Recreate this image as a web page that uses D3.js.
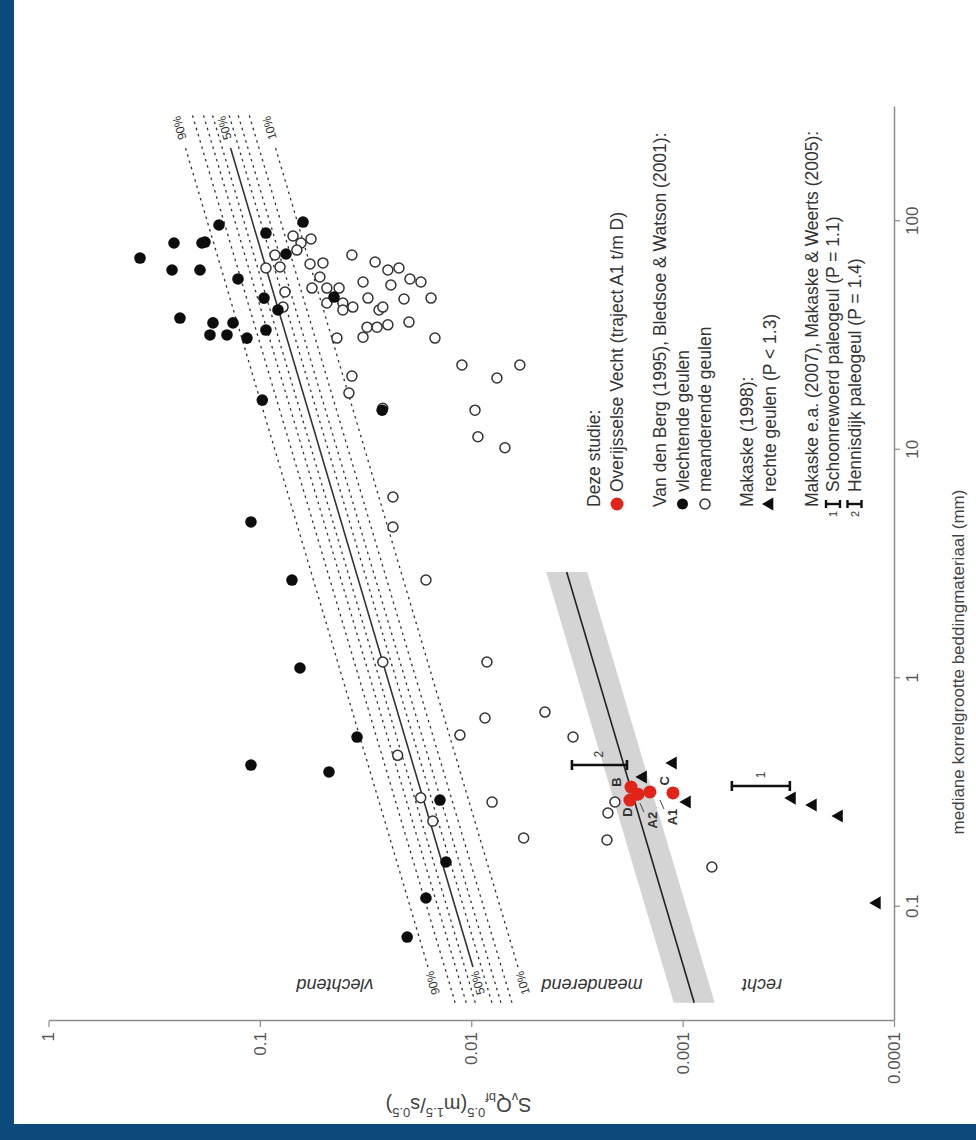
<!DOCTYPE html>
<html>
<head>
<meta charset="utf-8">
<script src="https://cdn.jsdelivr.net/npm/d3@7"></script>
<style>
  body { margin: 0; background: #fff; }
  svg text { font-family: "Liberation Sans", Arial, Helvetica, sans-serif; }
</style>
</head>
<body>
<svg id="chart" width="976" height="1140"></svg>
<script>
// ---- axis ticks ----
const xTicks = [0.1, 1, 10, 100];
const xTickLabels = ["0.1", "1", "10", "100"];
const yTicks = [1, 0.1, 0.01, 0.001, 0.0001];
const yTickLabels = ["1", "0.1", "0.01", "0.001", "0.0001"];

// ---- Van den Berg (1995), Bledsoe & Watson (2001): braided channels ----
const braidedD = [96.3, 80.3, 81.1, 61.2, 55.9, 88.8, 99.2, 71.9, 46.1, 40.9, 46.6, 35.9, 35.9, 31.8, 31.8, 30.8, 33.4, 37.7, 69.0,
                  61.2, 80.3, 16.5, 14.9, 4.83, 2.69, 1.109, 0.553, 0.417, 0.389, 0.293, 0.157, 0.1092, 0.0737];
const braidedS = [0.1561, 0.1879, 0.1819, 0.192, 0.1269, 0.0936, 0.0625, 0.0752, 0.0956, 0.0821, 0.0446, 0.1667, 0.134, 0.1722, 0.1431, 0.1151, 0.0936, 0.2388, 0.369,
                  0.2604, 0.2549, 0.0974, 0.0264, 0.1102, 0.0705, 0.0646, 0.0347, 0.1102, 0.0471, 0.01406, 0.01317, 0.01638, 0.0201];

// ---- Van den Berg (1995), Bledsoe & Watson (2001): meandering channels ----
const meanderD = [86.2, 80.3, 83.6, 74.8, 71.2, 65.7, 65.0, 71.2, 66.3, 61.2, 62.4, 55.9, 54.2, 54.2, 52.6, 62.4, 63.1, 57.0, 51.0, 51.0,
                  51.0, 49.0, 45.7, 46.1, 46.1, 40.9, 42.1, 43.9, 43.9, 42.1, 40.9, 42.1, 36.2, 34.4, 34.4, 35.2, 30.8, 30.8, 31.1,
                  23.5, 20.6, 23.5, 14.9, 11.4, 10.2, 15.2, 17.7, 21.0, 6.21, 4.59, 2.69, 1.178, 1.178, 0.711, 0.553, 0.67, 0.564,
                  0.2873, 0.2572, 0.196, 0.1493, 0.287, 0.30, 0.237, 0.20, 0.46];
const meanderS = [0.0697, 0.0639, 0.0573, 0.0668, 0.0848, 0.0503, 0.0579, 0.0367, 0.0285, 0.0248, 0.02198, 0.0195, 0.0173, 0.0325, 0.024, 0.0936, 0.0803, 0.052, 0.0567, 0.0482,
                  0.0422, 0.0761, 0.0208, 0.0155, 0.0308, 0.0273, 0.0262, 0.0482, 0.0405, 0.0363, 0.0405, 0.0777, 0.0197, 0.0311, 0.0279, 0.0248, 0.01485, 0.0432, 0.0325,
                  0.00589, 0.00756, 0.01107, 0.0096, 0.0093, 0.00693, 0.0262, 0.0379, 0.0367, 0.02347, 0.02347, 0.01638, 0.0262, 0.00843, 0.00448, 0.0033, 0.00861, 0.01131,
                  0.00209, 0.002257, 0.00228, 0.000727, 0.00797, 0.01734, 0.0152, 0.00565, 0.0223];

// ---- Makaske (1998): straight channels ----
const straightD = [0.3697, 0.4257, 0.2873, 0.299, 0.2788, 0.2495, 0.1039];
const straightS = [0.00154, 0.001111, 0.000954, 0.000304, 0.000242, 0.000182, 0.0001205];

// ---- Overijsselse Vecht, reaches A1 to D ----
const vechtNames = ["B", "D", "A2", "A1", "C"];
const vechtD = [0.334, 0.293, 0.311, 0.318, 0.315];
const vechtS = [0.001755, 0.001775, 0.001626, 0.001428, 0.001111];

// ---- Makaske et al. (2007), Makaske & Weerts (2005): palaeochannels ----
const paleoIds = ["1", "2"];
const paleoD = [0.3376, 0.417];
const paleoSLow = [0.000311, 0.001834];
const paleoSHigh = [0.000585, 0.00334];

// ---- discriminant functions  S*Qbf^0.5 = c * D^e ----
const braidCoef = 0.0249, braidExp = 0.32;           // 50 % braided probability
const braidPercent = [10, 20, 30, 40, 50, 60, 70, 80, 90];
const braidLogitStep = 0.0969;                         // log10 units per logit unit
const straightCoef = 0.00251, straightExp = 0.32;     // meandering / straight boundary
const straightBand = 1.25;                             // multiplicative band width

// ---------------------------------------------------------------
const svg = d3.select("#chart");
const axisGrey = "#8c8c8c";

// page frame
svg.append("rect").attr("width", 976).attr("height", 1140).attr("fill", "#0b4a7a");
svg.append("rect").attr("x", 14).attr("y", 0).attr("width", 962).attr("height", 1124).attr("fill", "#fff");

// plot drawn in its normal orientation, then turned a quarter turn
const W = 914, H = 845.5;
const g = svg.append("g").attr("transform", "translate(48.5,1021) rotate(-90)");

const x = d3.scaleLog().domain([Math.pow(10, -1.5), Math.pow(10, 2.5)]).range([0, W]);
const y = d3.scaleLog().domain([1e-4, 1]).range([H, 0]);

// straight/meandering band
const mk = d => straightCoef * Math.pow(d, straightExp);
const mkD0 = 0.038, mkD1 = 2.92;
g.append("path")
  .attr("d", d3.line()([
    [x(mkD0), y(mk(mkD0) * straightBand)], [x(mkD1), y(mk(mkD1) * straightBand)],
    [x(mkD1), y(mk(mkD1) / straightBand)], [x(mkD0), y(mk(mkD0) / straightBand)]
  ]) + "Z")
  .attr("fill", "#d4d4d4");
g.append("line")
  .attr("x1", x(mkD0)).attr("y1", y(mk(mkD0)))
  .attr("x2", x(mkD1)).attr("y2", y(mk(mkD1)))
  .attr("stroke", "#222").attr("stroke-width", 1.6);

// braided probability lines
const bw = (d, p) => braidCoef * Math.pow(d, braidExp) * Math.pow(10, braidLogitStep * Math.log(p / (100 - p)));
const fullD = [0.038, 300], shortD = [0.0545, 209];
braidPercent.forEach(p => {
  const labelled = (p === 10 || p === 50 || p === 90);
  const r = labelled ? shortD : fullD;
  g.append("line")
    .attr("x1", x(r[0])).attr("y1", y(bw(r[0], p)))
    .attr("x2", x(r[1])).attr("y2", y(bw(r[1], p)))
    .attr("stroke", "#333")
    .attr("stroke-width", p === 50 ? 1.6 : 1.3)
    .attr("stroke-dasharray", p === 50 ? null : "2.5,4");
});
const lineAngle = Math.atan2(y(bw(100, 50)) - y(bw(1, 50)), x(100) - x(1)) * 180 / Math.PI;
[10, 50, 90].forEach(p => {
  [0.0464, 256].forEach(dd => {
    g.append("text")
      .attr("transform", `translate(${x(dd)},${y(bw(dd, p))}) rotate(${lineAngle})`)
      .attr("text-anchor", "middle").attr("dominant-baseline", "central")
      .attr("font-size", 12).attr("fill", "#333")
      .text(p + "%");
  });
});

// axes
const xAxis = g.append("g").attr("transform", `translate(0,${H})`)
  .call(d3.axisBottom(x).tickValues(xTicks).tickFormat((d, i) => xTickLabels[i]).tickSize(6).tickSizeOuter(0).tickPadding(6));
const yAxis = g.append("g")
  .call(d3.axisLeft(y).tickValues(yTicks).tickFormat((d, i) => yTickLabels[i]).tickSize(6).tickSizeOuter(0).tickPadding(5));
[xAxis, yAxis].forEach(a => {
  a.select(".domain").attr("stroke", axisGrey).attr("stroke-width", 1.5);
  a.selectAll(".tick line").attr("stroke", axisGrey).attr("stroke-width", 1.2);
  a.selectAll(".tick text").attr("font-size", 17).attr("fill", "#555").attr("font-family", "Liberation Sans, Arial, sans-serif");
});

// axis titles
g.append("text")
  .attr("transform", `translate(359,${H + 64})`)
  .attr("text-anchor", "middle").attr("dominant-baseline", "central")
  .attr("font-size", 17).attr("fill", "#444")
  .text("mediane korrelgrootte beddingmateriaal (mm)");
const yt = g.append("text")
  .attr("transform", `translate(-84,${410}) rotate(-90)`)
  .attr("text-anchor", "middle").attr("dominant-baseline", "central")
  .attr("font-size", 20).attr("fill", "#444");
yt.append("tspan").text("S");
yt.append("tspan").attr("baseline-shift", "sub").attr("font-size", 13).text("v");
yt.append("tspan").text("Q");
yt.append("tspan").attr("baseline-shift", "sub").attr("font-size", 13).text("bf");
yt.append("tspan").attr("baseline-shift", "super").attr("font-size", 13).text("0.5");
yt.append("tspan").text("(m");
yt.append("tspan").attr("baseline-shift", "super").attr("font-size", 13).text("1.5");
yt.append("tspan").text("/s");
yt.append("tspan").attr("baseline-shift", "super").attr("font-size", 13).text("0.5");
yt.append("tspan").text(")");

// region names
[["vlechtend", 286.5], ["meanderend", 543.5], ["recht", 713.5]].forEach(([t, oy]) => {
  g.append("text")
    .attr("transform", `translate(36,${oy}) rotate(-90)`)
    .attr("text-anchor", "middle").attr("dominant-baseline", "central")
    .attr("font-size", 18).attr("font-style", "italic").attr("fill", "#333")
    .text(t);
});

// data points
const meander = meanderD.map((d, i) => [d, meanderS[i]]);
g.selectAll("circle.meander").data(meander).join("circle")
  .attr("class", "meander")
  .attr("cx", d => x(d[0])).attr("cy", d => y(d[1])).attr("r", 5)
  .attr("fill", "#fff").attr("stroke", "#333").attr("stroke-width", 1.5);

const braided = braidedD.map((d, i) => [d, braidedS[i]]);
g.selectAll("circle.braided").data(braided).join("circle")
  .attr("class", "braided")
  .attr("cx", d => x(d[0])).attr("cy", d => y(d[1])).attr("r", 5.8)
  .attr("fill", "#0d0d0d");

const straight = straightD.map((d, i) => [d, straightS[i]]);
const tri = d3.symbol().type(d3.symbolTriangle).size(75);
g.selectAll("path.straight").data(straight).join("path")
  .attr("class", "straight")
  .attr("transform", d => `translate(${x(d[0])},${y(d[1])})`)
  .attr("d", tri()).attr("fill", "#0d0d0d");

// palaeochannel ranges
paleoIds.forEach((id, i) => {
  const cx = x(paleoD[i]), y0 = y(paleoSLow[i]), y1 = y(paleoSHigh[i]);
  const bar = g.append("g").attr("stroke", "#111").attr("stroke-width", 2.6);
  bar.append("line").attr("x1", cx).attr("x2", cx).attr("y1", y0).attr("y2", y1);
  bar.append("line").attr("x1", cx - 5).attr("x2", cx + 5).attr("y1", y0).attr("y2", y0);
  bar.append("line").attr("x1", cx - 5).attr("x2", cx + 5).attr("y1", y1).attr("y2", y1);
  g.append("text")
    .attr("x", cx + 11).attr("y", (y0 + y1) / 2)
    .attr("text-anchor", "middle").attr("dominant-baseline", "central")
    .attr("font-size", 12).attr("fill", "#333").text(id);
});

// Overijsselse Vecht reaches
const vecht = vechtD.map((d, i) => [d, vechtS[i], vechtNames[i]]);
g.selectAll("circle.vecht").data(vecht).join("circle")
  .attr("class", "vecht")
  .attr("cx", d => x(d[0])).attr("cy", d => y(d[1])).attr("r", 6.5)
  .attr("fill", "#e2231a");
const vechtLabelOffset = { B: [5, -14], D: [-12, -2], A2: [-26, 15], A1: [-25, 23], C: [12, -8] };
vecht.forEach(d => {
  const [dx, dy] = vechtLabelOffset[d[2]];
  const px = x(d[0]), py = y(d[1]);
  g.append("text")
    .attr("x", px + dx).attr("y", py + dy)
    .attr("text-anchor", "middle").attr("dominant-baseline", "central")
    .attr("font-size", 13).attr("font-weight", "bold").attr("fill", "#333")
    .text(d[2]);
  if (d[2] === "A1" || d[2] === "A2") {
    g.append("line")
      .attr("x1", px + dx + 8).attr("y1", py + dy - 9)
      .attr("x2", px + dx + 17).attr("y2", py + dy - 13)
      .attr("stroke", "#444").attr("stroke-width", 1);
  }
});

// legend
const lg = g.append("g").attr("font-size", 17.5).attr("fill", "#333");
const legTitleX = 514, legSymX = 517, legTextX = 529;
const legRows = [
  { t: "title", text: "Deze studie:", oy: 545.5 },
  { t: "red", text: "Overijsselse Vecht (traject A1 t/m D)", oy: 568.5 },
  { t: "title", text: "Van den Berg (1995), Bledsoe & Watson (2001):", oy: 611.5 },
  { t: "black", text: "vlechtende geulen", oy: 634 },
  { t: "open", text: "meanderende geulen", oy: 656.5 },
  { t: "title", text: "Makaske (1998):", oy: 698.5 },
  { t: "tri", text: "rechte geulen (P < 1.3)", oy: 721 },
  { t: "title", text: "Makaske e.a. (2007), Makaske & Weerts (2005):", oy: 763.5 },
  { t: "bar", id: "1", text: "Schoonrewoerd paleogeul (P = 1.1)", oy: 784.5 },
  { t: "bar", id: "2", text: "Hennisdijk paleogeul (P = 1.4)", oy: 806 }
];
legRows.forEach(r => {
  if (r.t === "title") {
    lg.append("text").attr("x", legTitleX).attr("y", r.oy).attr("dominant-baseline", "central").text(r.text);
    return;
  }
  if (r.t === "red") lg.append("circle").attr("cx", legSymX).attr("cy", r.oy).attr("r", 6.5).attr("fill", "#e2231a");
  if (r.t === "black") lg.append("circle").attr("cx", legSymX).attr("cy", r.oy).attr("r", 5.5).attr("fill", "#0d0d0d");
  if (r.t === "open") lg.append("circle").attr("cx", legSymX).attr("cy", r.oy).attr("r", 5).attr("fill", "#fff").attr("stroke", "#333").attr("stroke-width", 1.5);
  if (r.t === "tri") lg.append("path").attr("transform", `translate(${legSymX},${r.oy})`).attr("d", tri()).attr("fill", "#0d0d0d");
  if (r.t === "bar") {
    const b = lg.append("g").attr("stroke", "#111").attr("stroke-width", 2.4);
    b.append("line").attr("x1", legSymX).attr("x2", legSymX).attr("y1", r.oy - 7).attr("y2", r.oy + 7);
    b.append("line").attr("x1", legSymX - 4).attr("x2", legSymX + 4).attr("y1", r.oy - 7).attr("y2", r.oy - 7);
    b.append("line").attr("x1", legSymX - 4).attr("x2", legSymX + 4).attr("y1", r.oy + 7).attr("y2", r.oy + 7);
    lg.append("text").attr("x", legSymX - 13).attr("y", r.oy).attr("dominant-baseline", "central").attr("font-size", 11).text(r.id);
  }
  lg.append("text").attr("x", legTextX).attr("y", r.oy).attr("dominant-baseline", "central").text(r.text);
});
</script>
</body>
</html>
